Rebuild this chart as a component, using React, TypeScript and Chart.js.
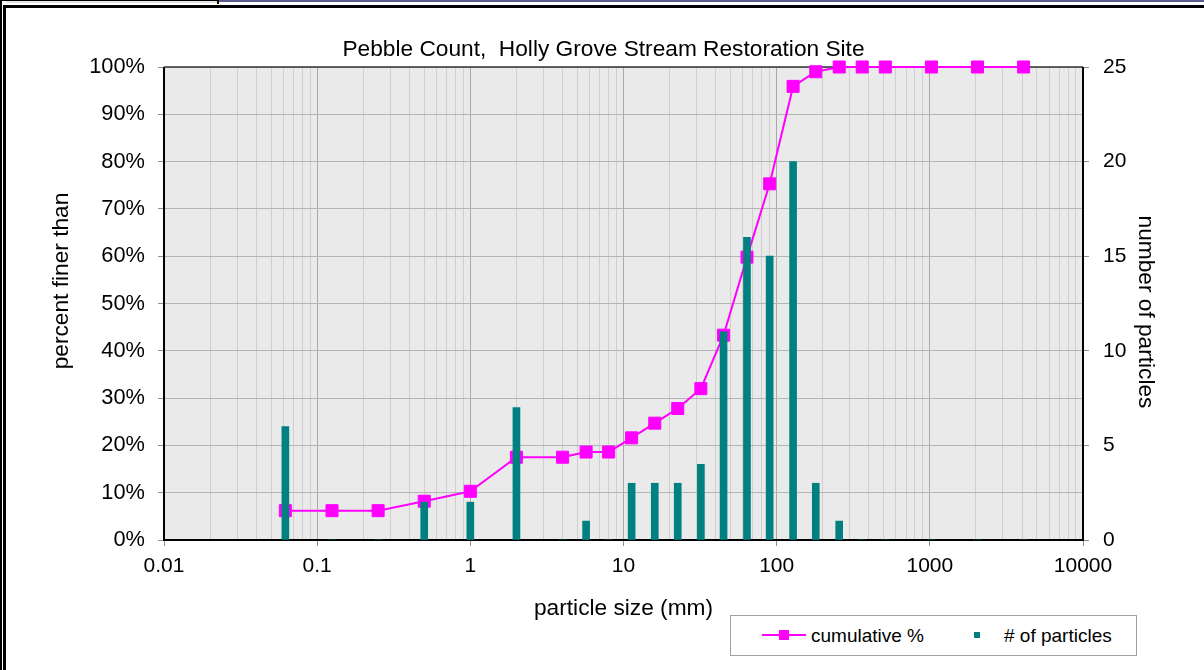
import React, { useEffect, useRef } from "react";
import { Chart, registerables } from "chart.js";

Chart.register(...registerables);

// ---- data ----
const particleSizes = [0.062, 0.125, 0.25, 0.5, 1, 2, 4, 5.7, 8, 11.3, 16, 22.6, 32, 45, 64, 90, 128, 180, 256, 362, 512, 1024, 2048, 4096];
const cumulativePct = [6.2, 6.2, 6.2, 8.2, 10.3, 17.5, 17.5, 18.6, 18.6, 21.6, 24.7, 27.8, 32.0, 43.3, 59.8, 75.3, 95.9, 99.0, 100, 100, 100, 100, 100, 100];
const particleCounts = [6, 0, 0, 2, 2, 7, 0, 1, 0, 3, 3, 3, 4, 11, 16, 15, 20, 3, 1, 0, 0, 0, 0, 0];
const xTickLabels = ["0.01", "0.1", "1", "10", "100", "1000", "10000"];
const xDecadeExps = [-2, -1, 0, 1, 2, 3, 4];
const titleText = "Pebble Count,  Holly Grove Stream Restoration Site";
const xTitle = "particle size (mm)";
const yTitle = "percent finer than";
const y2Title = "number of particles";
const lineLabel = "cumulative %";
const barLabel = "# of particles";

const FONT = "'Liberation Sans', Arial, Helvetica, sans-serif";
const TITLE_SIZE = 22.7;
const TICK_SIZE = 21;
const MAGENTA = "#FF00FF";
const TEAL = "#008080";

const isMajor = (v: number) => Math.abs(Math.log10(v) - Math.round(Math.log10(v))) < 1e-9;

const plotFrame = {
  id: "plotFrame",
  beforeDraw(chart: any) {
    const { ctx, chartArea: a } = chart;
    ctx.save();
    ctx.fillStyle = "#EAEAEA";
    ctx.fillRect(a.left, a.top, a.right - a.left, a.bottom - a.top);
    ctx.restore();
  },
  beforeDatasetsDraw(chart: any) {
    const { ctx, chartArea: a } = chart;
    ctx.save();
    ctx.strokeStyle = "#000";
    ctx.lineWidth = 2;
    ctx.beginPath();
    ctx.moveTo(a.left, a.top);
    ctx.lineTo(a.left, a.bottom);
    ctx.lineTo(a.right, a.bottom);
    ctx.lineTo(a.right, a.top);
    ctx.stroke();
    ctx.strokeStyle = "#333";
    ctx.lineWidth = 1.5;
    ctx.beginPath();
    ctx.moveTo(a.left, a.top);
    ctx.lineTo(a.right, a.top);
    ctx.stroke();
    ctx.restore();
  },
  afterDraw(chart: any) {
    const { ctx } = chart;
    ctx.save();
    ctx.fillStyle = "#000";
    ctx.font = `${TITLE_SIZE}px ${FONT}`;
    ctx.textAlign = "center";
    ctx.textBaseline = "middle";
    // chart title
    ctx.fillText(titleText, 603.5, 50);
    // left axis title
    ctx.save();
    ctx.translate(62, 281);
    ctx.rotate(-Math.PI / 2);
    ctx.fillText(yTitle, 0, 0);
    ctx.restore();
    // right axis title
    ctx.save();
    ctx.translate(1145, 312);
    ctx.rotate(Math.PI / 2);
    ctx.fillText(y2Title, 0, 0);
    ctx.restore();
    ctx.restore();
  },
};

export default function App() {
  const canvasRef = useRef<HTMLCanvasElement | null>(null);

  useEffect(() => {
    if (!canvasRef.current) return;
    const chart = new Chart(canvasRef.current, {
      type: "bar",
      data: {
        datasets: [
          {
            type: "line",
            label: lineLabel,
            data: particleSizes.map((x, i) => ({ x, y: cumulativePct[i] })),
            xAxisID: "x",
            yAxisID: "y",
            borderColor: MAGENTA,
            backgroundColor: MAGENTA,
            borderWidth: 2,
            pointStyle: "rect",
            pointRadius: 8.5,
            pointBorderWidth: 1,
            pointBorderColor: MAGENTA,
            pointBackgroundColor: MAGENTA,
            clip: false,
            order: 2,
          } as any,
          {
            type: "bar",
            label: barLabel,
            data: particleSizes.map((x, i) => ({ x, y: particleCounts[i] })),
            xAxisID: "x",
            yAxisID: "y2",
            backgroundColor: TEAL,
            borderWidth: 0,
            barThickness: 7,
            grouped: false,
            order: 1,
          } as any,
        ],
      },
      options: {
        responsive: false,
        animation: false,
        devicePixelRatio: 1,
        layout: { padding: { top: 67, left: 30, right: 41, bottom: 48 } },
        plugins: {
          legend: { display: false },
          tooltip: { enabled: false },
          title: { display: false },
        },
        scales: {
          x: {
            type: "logarithmic",
            position: "bottom",
            min: 0.01,
            max: 10000,
            offset: false,
            afterBuildTicks: (scale: any) => {
              const ticks: any[] = [];
              for (let e = -2; e <= 3; e++) {
                for (let m = 1; m <= 9; m++) {
                  ticks.push({ value: Number((m * Math.pow(10, e)).toPrecision(6)) });
                }
              }
              ticks.push({ value: 10000 });
              scale.ticks = ticks;
            },
            afterFit: (scale: any) => {
              scale.height = 82;
            },
            grid: {
              offset: false,
              color: (c: any) => (c.tick && isMajor(c.tick.value) ? "#A9A9A9" : "#CFCFCF"),
              tickColor: (c: any) => (c.tick && isMajor(c.tick.value) ? "#909090" : "rgba(0,0,0,0)"),
              tickLength: 6,
              lineWidth: 1,
            },
            border: { display: false },
            ticks: {
              autoSkip: false,
              maxRotation: 0,
              minRotation: 0,
              padding: 8,
              color: "#000",
              font: { family: FONT, size: TICK_SIZE },
              callback: (v: any) => {
                const val = Number(v);
                if (!isMajor(val)) return "";
                const idx = xDecadeExps.indexOf(Math.round(Math.log10(val)));
                return idx >= 0 ? xTickLabels[idx] : "";
              },
            },
            title: {
              display: true,
              text: xTitle,
              color: "#000",
              font: { family: FONT, size: TITLE_SIZE },
              padding: { top: 0, bottom: 0 },
            },
          },
          y: {
            type: "linear",
            position: "left",
            min: 0,
            max: 100,
            afterFit: (scale: any) => {
              scale.width = 134;
            },
            grid: {
              color: "#B4B4B4",
              tickColor: "#909090",
              tickLength: 6,
              lineWidth: 1,
            },
            border: { display: false },
            ticks: {
              stepSize: 10,
              padding: 13,
              color: "#000",
              font: { family: FONT, size: 21.8 },
              callback: (v: any) => `${v}%`,
            },
            title: { display: false },
          },
          y2: {
            type: "linear",
            position: "right",
            min: 0,
            max: 25,
            afterFit: (scale: any) => {
              scale.width = 80;
            },
            grid: {
              drawOnChartArea: false,
              color: "#909090",
              tickColor: "#909090",
              tickLength: 6,
            },
            border: { display: false },
            ticks: {
              stepSize: 5,
              padding: 14,
              color: "#000",
              font: { family: FONT, size: TICK_SIZE },
            },
            title: { display: false },
          },
        },
      } as any,
      plugins: [plotFrame],
    });
    return () => chart.destroy();
  }, []);

  const abs = (s: React.CSSProperties): React.CSSProperties => ({ position: "absolute", ...s });

  return (
    <div style={{ position: "fixed", left: 0, top: 0, width: 1204, height: 670, background: "#fff", overflow: "hidden" }}>
      <canvas ref={canvasRef} width={1204} height={670} style={abs({ left: 0, top: 0, width: 1204, height: 670 })} />
      {/* window frame decorations */}
      <div style={abs({ left: 0, top: 0, width: 217, height: 1, background: "#000" })} />
      <div style={abs({ left: 6, top: 1, width: 211, height: 2, background: "#E4E4E4" })} />
      <div style={abs({ left: 217, top: 0, width: 2, height: 4, background: "#000" })} />
      <div style={abs({ left: 219, top: 0, width: 985, height: 2, background: "#5A5A8E" })} />
      <div style={abs({ left: 3, top: 5, width: 1201, height: 3, background: "#000" })} />
      <div style={abs({ left: 0, top: 0, width: 2, height: 670, background: "#000" })} />
      <div style={abs({ left: 3, top: 5, width: 3, height: 665, background: "#000" })} />
      {/* legend */}
      <div style={abs({ left: 730, top: 615, width: 405, height: 39, border: "1px solid #A0A0A0", background: "#fff" })} />
      <div style={abs({ left: 762, top: 634, width: 44, height: 2, background: MAGENTA })} />
      <div style={abs({ left: 779, top: 630, width: 10, height: 10, background: MAGENTA })} />
      <span style={abs({ left: 811, top: 626, fontFamily: FONT, fontSize: 19, lineHeight: "19px", color: "#000", whiteSpace: "nowrap" })}>{lineLabel}</span>
      <div style={abs({ left: 974, top: 632, width: 6, height: 6, background: TEAL })} />
      <span style={abs({ left: 1004, top: 626, fontFamily: FONT, fontSize: 19, lineHeight: "19px", color: "#000", whiteSpace: "nowrap" })}>{barLabel}</span>
    </div>
  );
}
